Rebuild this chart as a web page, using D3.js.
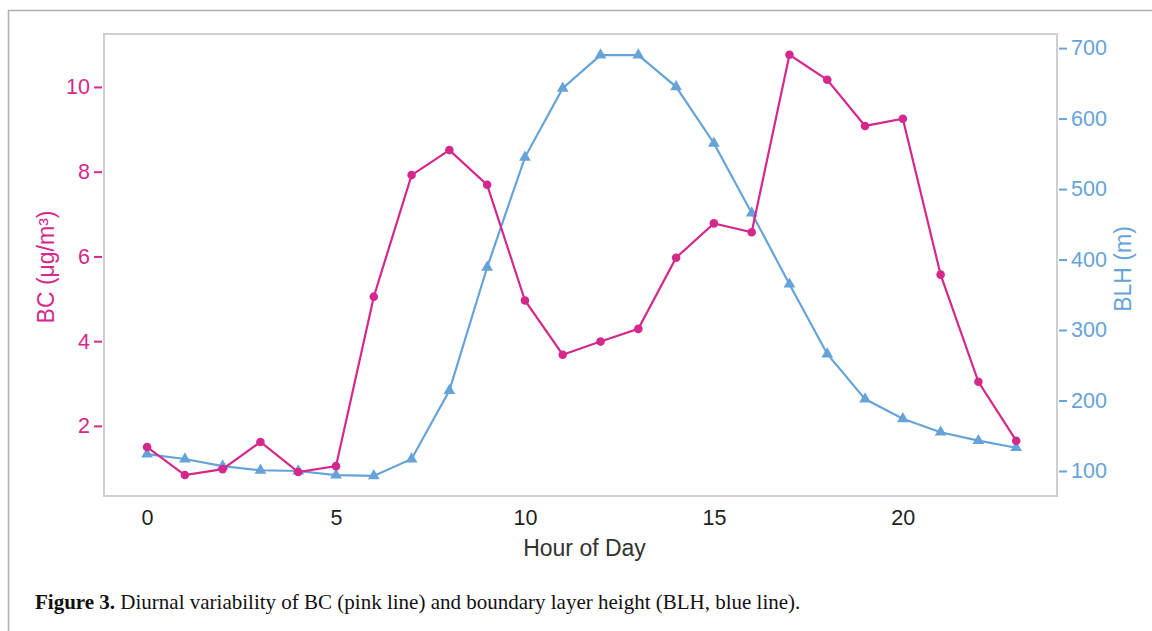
<!DOCTYPE html>
<html>
<head>
<meta charset="utf-8">
<script src="https://cdn.jsdelivr.net/npm/d3@7"></script>
<style>
  body { margin: 0; background: #fff; }
  svg { display: block; }
</style>
</head>
<body>
<svg id="chart"></svg>
<script>
// hours 0..23
const hours = [0,1,2,3,4,5,6,7,8,9,10,11,12,13,14,15,16,17,18,19,20,21,22,23];
// BC (ug/m3), pink line
const bcValues = [1.50,0.84,0.98,1.62,0.91,1.05,5.05,7.92,8.51,7.69,4.96,3.68,3.99,4.29,5.97,6.78,6.57,10.76,10.17,9.08,9.25,5.57,3.04,1.65];
// BLH (m), blue line
const blhValues = [124,117,107,101,100,94,93,117,214,389,545,643,690,690,645,565,466,365,266,202,174,155,143,133];

const xTicks = [0,5,10,15,20];
const bcTicks = [2,4,6,8,10];
const blhTicks = [100,200,300,400,500,600,700];

const pink = "#d4288c";
const blue = "#66a3d9";
const sans = "Liberation Sans, Arial, sans-serif";

const W = 1152, H = 631;
const margin = { top: 34, right: 95, bottom: 135, left: 104 };
const width = W - margin.left - margin.right;
const height = H - margin.top - margin.bottom;

const svg = d3.select("#chart").attr("width", W).attr("height", H);

// outer figure border (top + left)
svg.append("path")
    .attr("d", "M8.5," + H + "V10.5H" + W)
    .attr("fill", "none")
    .attr("stroke", "#b0b0b0")
    .attr("stroke-width", 1.5);

const g = svg.append("g").attr("transform", "translate(" + margin.left + "," + margin.top + ")");

const x = d3.scaleLinear().domain([-1.14, 24.08]).range([0, width]);
const yL = d3.scaleLinear().domain([0.345, 11.25]).range([height, 0]);
const yR = d3.scaleLinear().domain([64.5, 720]).range([height, 0]);

// frame
g.append("rect")
    .attr("width", width).attr("height", height)
    .attr("fill", "none").attr("stroke", "#cfcfcf").attr("stroke-width", 2);

function styleTicks(ax, color) {
    ax.attr("font-size", null).attr("font-family", null);
    ax.selectAll("text")
        .style("font-family", sans)
        .style("font-size", "21.5px")
        .attr("fill", color);
}

// x axis
const xAxis = g.append("g")
    .attr("transform", "translate(0," + height + ")")
    .call(d3.axisBottom(x).tickValues(xTicks).tickSize(0).tickPadding(14));
xAxis.select(".domain").remove();
styleTicks(xAxis, "#222");

// left axis
const lAxis = g.append("g")
    .call(d3.axisLeft(yL).tickValues(bcTicks).tickSize(8).tickPadding(6));
lAxis.select(".domain").remove();
lAxis.selectAll("line").attr("stroke", pink).attr("stroke-width", 2).attr("transform", "translate(-2,0)");
styleTicks(lAxis, pink);

// right axis
const rAxis = g.append("g")
    .attr("transform", "translate(" + width + ",0)")
    .call(d3.axisRight(yR).tickValues(blhTicks).tickSize(8).tickPadding(6));
rAxis.select(".domain").remove();
rAxis.selectAll("line").attr("stroke", blue).attr("stroke-width", 2).attr("transform", "translate(2,0)");
styleTicks(rAxis, blue);

// axis titles
g.append("text")
    .attr("x", width / 2 + 4).attr("y", height + 60)
    .attr("text-anchor", "middle")
    .style("font-family", sans)
    .style("font-size", "23px").attr("fill", "#333")
    .text("Hour of Day");

g.append("text")
    .attr("transform", "translate(-50," + (height / 2 + 2) + ") rotate(-90)")
    .attr("text-anchor", "middle")
    .style("font-family", sans)
    .style("font-size", "23px").attr("fill", pink)
    .text("BC (μg/m³)");

g.append("text")
    .attr("transform", "translate(" + (width + 74) + "," + (height / 2 + 4) + ") rotate(-90)")
    .attr("text-anchor", "middle")
    .style("font-family", sans)
    .style("font-size", "23px").attr("fill", blue)
    .text("BLH (m)");

const blhData = hours.map((h, i) => ({ h: h, v: blhValues[i] }));
const bcData = hours.map((h, i) => ({ h: h, v: bcValues[i] }));

// BLH line
g.append("path")
    .datum(blhData)
    .attr("fill", "none").attr("stroke", blue).attr("stroke-width", 2.2)
    .attr("d", d3.line().x(d => x(d.h)).y(d => yR(d.v)));

g.selectAll(".tri")
    .data(blhData)
    .enter().append("path")
    .attr("class", "tri")
    .attr("transform", d => "translate(" + x(d.h) + "," + yR(d.v) + ")")
    .attr("d", d3.symbol().type(d3.symbolTriangle).size(60))
    .attr("fill", blue);

// BC line
g.append("path")
    .datum(bcData)
    .attr("fill", "none").attr("stroke", pink).attr("stroke-width", 2.2)
    .attr("d", d3.line().x(d => x(d.h)).y(d => yL(d.v)));

g.selectAll(".dot")
    .data(bcData)
    .enter().append("circle")
    .attr("class", "dot")
    .attr("cx", d => x(d.h)).attr("cy", d => yL(d.v))
    .attr("r", 4.3)
    .attr("fill", pink);

// caption
const cap = svg.append("text")
    .attr("x", 35).attr("y", 609)
    .style("font-family", "Liberation Serif, Times New Roman, serif")
    .style("font-size", "21px").attr("fill", "#111");
cap.append("tspan").style("font-weight", "bold").text("Figure 3.");
cap.append("tspan").text(" Diurnal variability of BC (pink line) and boundary layer height (BLH, blue line).");
</script>
</body>
</html>
